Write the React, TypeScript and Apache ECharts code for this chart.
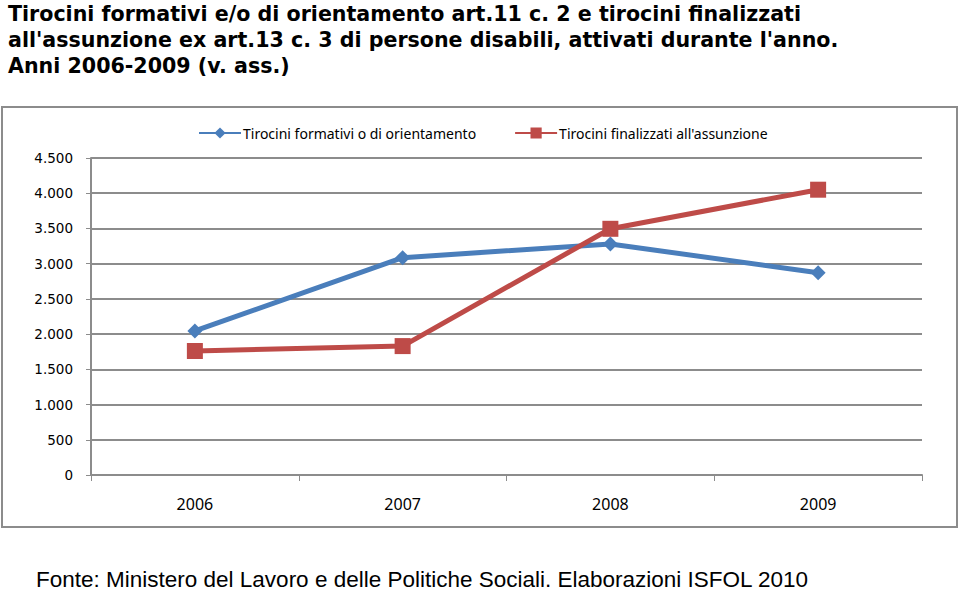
import React, { useEffect, useRef } from "react";
import * as echarts from "echarts";

const categories = ["2006", "2007", "2008", "2009"];
const seriesNames = ["Tirocini formativi o di orientamento", "Tirocini finalizzati all'assunzione"];
const formativi = [2045, 3085, 3280, 2870];
const finalizzati = [1760, 1830, 3495, 4050];
const titleLines = [
  "Tirocini formativi e/o di orientamento art.11 c. 2 e tirocini finalizzati",
  "all'assunzione ex art.13 c. 3 di persone disabili, attivati durante l'anno.",
  "Anni 2006-2009 (v. ass.)",
];
const footer = "Fonte: Ministero del Lavoro e delle Politiche Sociali. Elaborazioni ISFOL 2010";

export default function App() {
  const ref = useRef<HTMLDivElement>(null);
  useEffect(() => {
    if (!ref.current) return;
    const chart = echarts.init(ref.current, null, { renderer: "svg" });
    const gridColor = "#8c8c8c";
    chart.setOption({
      animation: false,
      backgroundColor: "#ffffff",
      graphic: [
        {
          type: "rect",
          shape: { x: 2, y: 107, width: 955, height: 420 },
          style: { fill: "none", stroke: "#8c8c8c", lineWidth: 2 },
          silent: true,
        },
        ...titleLines.map((t, i) => ({
          type: "text",
          x: 8,
          y: 3 + i * 26,
          style: {
            text: t,
            font: "bold 20.6px 'DejaVu Sans', Verdana, sans-serif",
            fill: "#000000",
            textVerticalAlign: "top",
          },
        })),
        {
          type: "text",
          x: 36,
          y: 591,
          style: {
            text: footer,
            font: "22.5px 'Liberation Sans', Arial, sans-serif",
            fill: "#000000",
            textVerticalAlign: "bottom",
          },
        },
      ],
      legend: {
        top: 121,
        left: 193,
        itemGap: 38,
        itemWidth: 42,
        itemHeight: 14,
        textStyle: { fontFamily: "'Noto Sans', sans-serif", fontSize: 14, color: "#000", padding: [0, 0, 0, -3] },
        data: seriesNames,
      },
      grid: { left: 91, right: 38, top: 158, bottom: 116, containLabel: false },
      xAxis: {
        type: "category",
        data: categories,
        boundaryGap: true,
        axisLine: { lineStyle: { color: gridColor, width: 2 } },
        axisTick: { show: true, length: 6, lineStyle: { color: gridColor, width: 1 } },
        axisLabel: { margin: 21, fontFamily: "'Noto Sans', sans-serif", fontSize: 16, color: "#000" },
      },
      yAxis: {
        type: "value",
        min: 0,
        max: 4500,
        interval: 500,
        axisLine: { show: true, lineStyle: { color: gridColor, width: 2 } },
        axisTick: { show: true, length: 5, lineStyle: { color: gridColor, width: 1 } },
        splitLine: { lineStyle: { color: gridColor, width: 2 } },
        axisLabel: {
          margin: 18,
          fontFamily: "'DejaVu Sans', Tahoma, sans-serif",
          fontSize: 13.5,
          color: "#000",
          formatter: (v: number) => (v >= 1000 ? `${Math.floor(v / 1000)}.${String(v % 1000).padStart(3, "0")}` : `${v}`),
        },
      },
      series: [
        {
          name: seriesNames[0],
          type: "line",
          data: formativi,
          symbol: "diamond",
          symbolSize: 15,
          lineStyle: { color: "#4a7ebb", width: 5 },
          itemStyle: { color: "#4a7ebb" },
        },
        {
          name: seriesNames[1],
          type: "line",
          data: finalizzati,
          symbol: "rect",
          symbolSize: 16,
          lineStyle: { color: "#be4b48", width: 5 },
          itemStyle: { color: "#be4b48" },
        },
      ],
    });
    return () => chart.dispose();
  }, []);
  return (
    <div
      ref={ref}
      style={{ position: "fixed", left: 0, top: 0, width: 960, height: 591 }}
    />
  );
}
